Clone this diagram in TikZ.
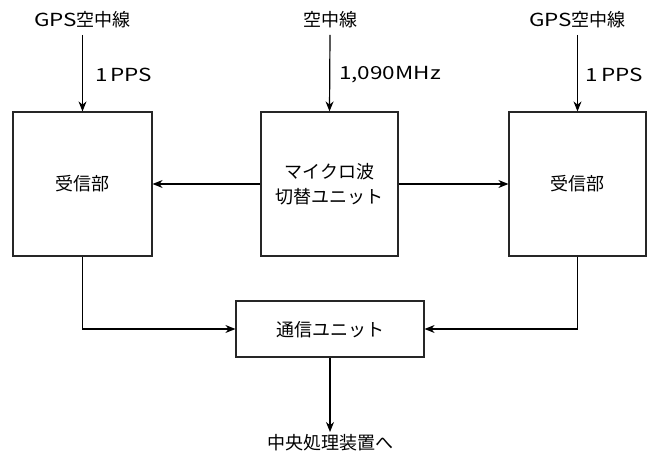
\documentclass[tikz,border=0pt]{standalone}
\usepackage{fontspec}
\setmainfont{Noto Sans CJK JP}
\newfontfamily\latn[FakeStretch=1.25]{Noto Sans CJK JP}
\usetikzlibrary{arrows.meta}
\begin{document}
\begin{tikzpicture}[x=1pt,y=-1pt,
  blk/.style={draw=black!85,line width=1.2pt,inner sep=0pt},
  lbl/.style={inner sep=0pt,font=\fontsize{18}{22}\selectfont},
  conn/.style={line width=1.2pt,-{Stealth[length=10pt,width=8pt]}}]
\useasboundingbox (0,0) rectangle (647,454);
% boxes
\node[blk,minimum width=139pt,minimum height=144pt] (rl) at (82.5,184) {};
\node[lbl] at (rl.center) {受信部};
\node[blk,minimum width=137pt,minimum height=144pt] (mw) at (329.5,184) {};
\node[lbl,align=center,font=\fontsize{18}{25}\selectfont] (mwt) at (mw.center) {マイクロ波\\切替ユニット};
\node[blk,minimum width=137pt,minimum height=144pt] (rr) at (577.5,184) {};
\node[lbl] at (rr.center) {受信部};
\node[blk,minimum width=188pt,minimum height=56pt] (cu) at (330,329) {};
\node[lbl] at (330,330) {通信ユニット};
% labels
\node[lbl] (gl) at (82.5,20) {{\latn GPS}空中線};
\node[lbl] (gc) at (330,20) {空中線};
\node[lbl] (gr) at (577.5,20) {{\latn GPS}空中線};
\node[lbl,anchor=west] (pl) at (95,75) {\latn 1\kern3pt PPS};
\node[lbl,anchor=west] (fc) at (339,75) {\latn 1,090MHz};
\node[lbl,anchor=east] (pr) at (643,75) {\latn 1\kern3pt PPS};
\node[lbl] (cp) at (330,443) {中央処理装置へ};
% connector ends
\coordinate (gla) at (82.5,35);
\coordinate (gca) at (330,35);
\coordinate (gra) at (577.5,35);
\coordinate (cpa) at (330,432);
% connectors
\draw[conn] (gla) -- (rl.north);
\draw[conn] (gca) -- (mw.north);
\draw[conn] (gra) -- (rr.north);
\draw[conn] (mw.west) -- (rl.east);
\draw[conn] (mw.east) -- (rr.west);
\draw[conn] (rl.south) |- (cu.west);
\draw[conn] (rr.south) |- (cu.east);
\draw[conn] (cu.south) -- (cpa);
\end{tikzpicture}
\end{document}
